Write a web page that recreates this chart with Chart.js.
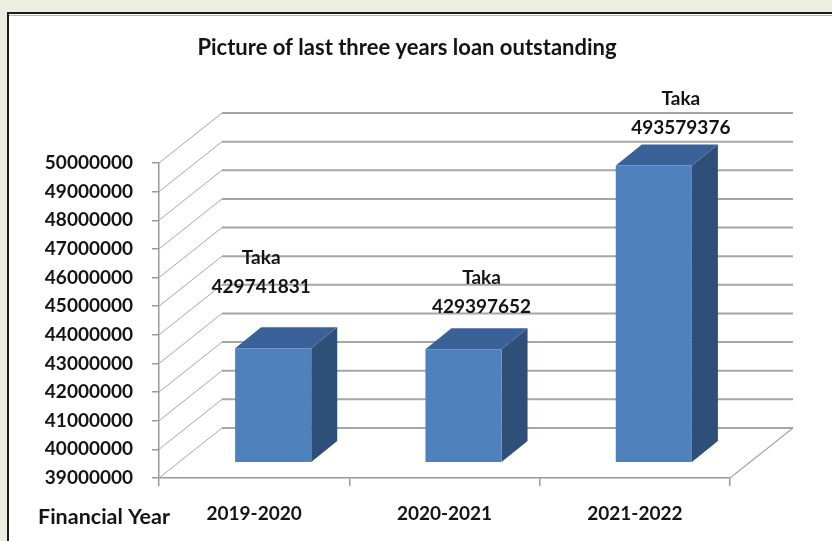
<!DOCTYPE html>
<html>
<head>
<meta charset="utf-8">
<script src="https://cdn.jsdelivr.net/npm/chart.js@4.4.0/dist/chart.umd.min.js"></script>
<style>
  html, body { margin: 0; padding: 0; background: #eceedf; overflow: hidden; }
  .panel {
    position: absolute; left: 7px; top: 12px; width: 900px; height: 600px;
    background: #fff; border-top: 2px solid #1c1c1c; border-left: 2px solid #1c1c1c;
    box-shadow: inset 0 1px 0 #fff, inset 0 2px 0 #b4b4b4;
  }
  #wrap { position: absolute; left: 0; top: 0; width: 832px; height: 541px; }
</style>
</head>
<body>
<div class="panel"></div>
<div id="wrap"><canvas id="c" width="832" height="541"></canvas></div>
<script>
const years = ['2019-2020', '2020-2021', '2021-2022'];
const loanValues = [42974183, 42939765, 49357938];
const amountLabels = ['429741831', '429397652', '493579376'];
const yMin = 39000000, yMax = 50000000, yStep = 1000000;
const chartTitle = 'Picture of last three years loan outstanding';
const xTitle = 'Financial Year';

// 3d look: back wall offset, bar position inside depth, bar depth
const WALL = { dx: 63, dy: -50 };
const SHIFT = { dx: 19, dy: -16 };
const DEPTH = { dx: 26, dy: -21 };
// hand-placed label nudges (from category centre / bar top)
const labelNudge = [{ dx: 7, dy: -61 }, { dx: 37, dy: -42 }, { dx: 46, dy: -38 }];

const FONT = 'Lato, "Open Sans", sans-serif';
const INK = '#141414';

const wall3d = {
  id: 'wall3d',
  beforeDatasetsDraw(chart) {
    const { ctx, chartArea: a, scales: { y } } = chart;
    ctx.save();
    ctx.strokeStyle = '#a6a6a6';
    y.ticks.forEach(t => {
      const py = y.getPixelForValue(t.value);
      ctx.lineWidth = 1;
      ctx.beginPath(); ctx.moveTo(a.left, py); ctx.lineTo(a.left + WALL.dx, py + WALL.dy); ctx.stroke();
      ctx.lineWidth = 2;
      ctx.beginPath(); ctx.moveTo(a.left + WALL.dx, py + WALL.dy); ctx.lineTo(a.right + WALL.dx, py + WALL.dy); ctx.stroke();
    });
    ctx.lineWidth = 1.2;
    ctx.beginPath(); ctx.moveTo(a.right, a.bottom); ctx.lineTo(a.right + WALL.dx, a.bottom + WALL.dy); ctx.stroke();
    ctx.restore();

    // side + top faces, then keep the shift for the front faces
    ctx.save();
    ctx.translate(SHIFT.dx, SHIFT.dy);
    const floor = y.getPixelForValue(yMin);
    chart.getDatasetMeta(0).data.forEach(el => {
      const { x, y: top, width } = el.getProps(['x', 'y', 'width'], true);
      const base = floor;
      const l = x - width / 2, r = x + width / 2;
      ctx.fillStyle = '#2e5078';
      ctx.beginPath();
      ctx.moveTo(r, top); ctx.lineTo(r + DEPTH.dx, top + DEPTH.dy);
      ctx.lineTo(r + DEPTH.dx, base + DEPTH.dy); ctx.lineTo(r, base);
      ctx.closePath(); ctx.fill();
      ctx.fillStyle = '#3a6299';
      ctx.beginPath();
      ctx.moveTo(l, top); ctx.lineTo(l + DEPTH.dx, top + DEPTH.dy);
      ctx.lineTo(r + DEPTH.dx, top + DEPTH.dy); ctx.lineTo(r, top);
      ctx.closePath(); ctx.fill();
    });
  },
  afterDatasetsDraw(chart) {
    const { ctx, scales: { x, y } } = chart;
    ctx.restore();
    ctx.save();
    ctx.fillStyle = INK;
    ctx.textAlign = 'center';
    ctx.textBaseline = 'middle';
    ctx.font = 'bold 19px ' + FONT;
    loanValues.forEach((v, i) => {
      const cx = x.getPixelForValue(i) + labelNudge[i].dx;
      const cy = y.getPixelForValue(v) + SHIFT.dy + labelNudge[i].dy;
      ctx.fillText('Taka', cx, cy - 29);
      ctx.fillText(amountLabels[i], cx, cy);
    });
    ctx.font = 'bold 22px ' + FONT;
    ctx.fillText(chartTitle, 407, 48);
    ctx.textAlign = 'left';
    ctx.font = 'bold 21.5px ' + FONT;
    ctx.fillText(xTitle, 38, 517);
    ctx.restore();
  }
};

new Chart(document.getElementById('c'), {
  type: 'bar',
  data: {
    labels: years,
    datasets: [{
      data: loanValues,
      backgroundColor: '#4f81bd',
      borderWidth: 0,
      barPercentage: 0.4,
      categoryPercentage: 1
    }]
  },
  options: {
    responsive: false,
    animation: false,
    devicePixelRatio: 1,
    layout: { padding: { top: 163, right: 102, bottom: 16, left: 0 } },
    plugins: {
      legend: { display: false },
      tooltip: { enabled: false },
      title: { display: false }
    },
    scales: {
      x: {
        offset: true,
        grid: { drawOnChartArea: false, drawTicks: true, tickLength: 8, offset: true, color: '#9a9a9a', lineWidth: 1.5 },
        border: { display: true, color: '#9a9a9a', width: 1.5 },
        ticks: { color: INK, font: { family: FONT, size: 19, weight: 'bold' }, padding: 16 },
        afterFit: s => { s.height = 47; }
      },
      y: {
        min: yMin, max: yMax,
        grid: { drawOnChartArea: false, drawTicks: true, tickLength: 7, color: '#9a9a9a', lineWidth: 1.5 },
        border: { display: true, color: '#9a9a9a', width: 1.5 },
        ticks: { stepSize: yStep, color: INK, font: { family: FONT, size: 19, weight: 'bold' }, padding: 19, callback: v => String(v) },
        afterFit: s => { s.width = 159; }
      }
    }
  },
  plugins: [wall3d]
});
</script>
</body>
</html>
